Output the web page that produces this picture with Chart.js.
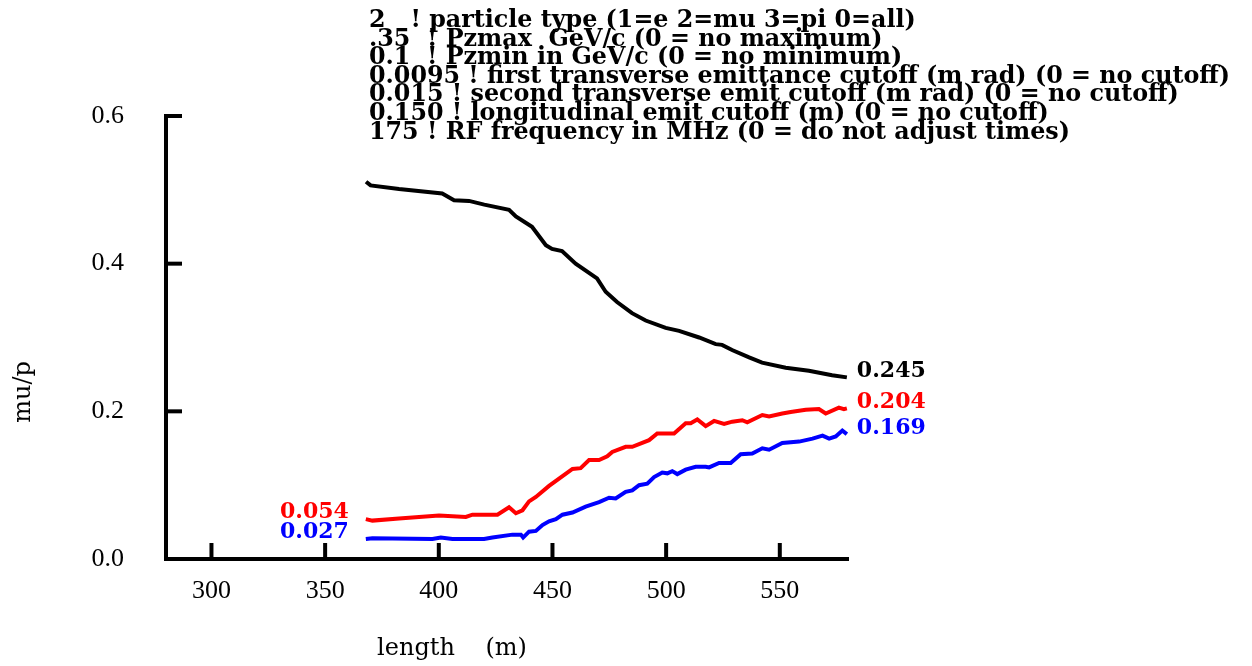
<!DOCTYPE html>
<html>
<head>
<meta charset="utf-8">
<script src="https://cdn.jsdelivr.net/npm/chart.js@4/dist/chart.umd.min.js"></script>
<style>
  html, body { margin: 0; padding: 0; background: #fff; }
  #wrap { width: 1252px; height: 666px; }
</style>
</head>
<body>
<div id="wrap"><canvas id="mu_graph" width="1252" height="666"></canvas></div>
<script>
// values
const blackX = [368, 370, 382.5, 401.5, 406.7, 413.3, 420, 430.9, 433.9, 441, 447.1, 449.8, 454.2, 460.2, 469.6, 473.4, 478.4, 485, 491, 499.8, 505.7, 514.5, 521.8, 524.6, 529, 536.5, 542.2, 552.6, 562.8, 573, 579.5];
const blackY = [0.511, 0.506, 0.501, 0.495, 0.486, 0.485, 0.480, 0.473, 0.464, 0.450, 0.425, 0.420, 0.417, 0.400, 0.380, 0.362, 0.348, 0.333, 0.323, 0.313, 0.309, 0.300, 0.291, 0.290, 0.283, 0.273, 0.266, 0.259, 0.255, 0.249, 0.246];

const redX = [367.9, 370.8, 382.5, 400.1, 411.9, 414.8, 425.8, 430.9, 433.9, 436.8, 439.7, 442.7, 448.5, 452.9, 458.8, 462.4, 466.1, 470.5, 474.1, 476.3, 482.2, 485.1, 492.5, 496.1, 503.5, 508.6, 510.8, 513.7, 517.4, 521.1, 525.5, 529.1, 533.5, 535.7, 542.3, 545.3, 551.1, 554.8, 561.4, 567.2, 570.2, 576.0, 578.2, 579.5];
const redY = [0.054, 0.052, 0.055, 0.059, 0.057, 0.060, 0.060, 0.070, 0.062, 0.066, 0.078, 0.084, 0.099, 0.109, 0.122, 0.123, 0.134, 0.134, 0.139, 0.145, 0.152, 0.152, 0.161, 0.170, 0.170, 0.184, 0.184, 0.189, 0.180, 0.187, 0.183, 0.186, 0.188, 0.185, 0.195, 0.193, 0.197, 0.199, 0.202, 0.203, 0.197, 0.205, 0.203, 0.204];

const blueX = [367.9, 370.8, 397.2, 400.9, 406.0, 419.9, 423.6, 432.4, 436.1, 437.1, 439.7, 442.7, 445.6, 448.5, 451.5, 454.4, 458.8, 464.6, 470.5, 474.9, 477.8, 482.2, 485.1, 488.1, 491.7, 494.7, 498.3, 500.5, 502.7, 504.9, 508.6, 513.0, 517.4, 518.9, 523.3, 528.4, 532.8, 537.9, 542.3, 545.3, 551.1, 558.5, 564.4, 568.8, 571.7, 574.6, 577.5, 579.5];
const blueY = [0.027, 0.028, 0.027, 0.029, 0.027, 0.027, 0.029, 0.033, 0.033, 0.029, 0.037, 0.038, 0.046, 0.051, 0.054, 0.060, 0.063, 0.071, 0.077, 0.083, 0.082, 0.091, 0.093, 0.100, 0.102, 0.111, 0.117, 0.116, 0.119, 0.115, 0.121, 0.125, 0.125, 0.124, 0.130, 0.130, 0.142, 0.143, 0.150, 0.148, 0.157, 0.159, 0.163, 0.167, 0.163, 0.166, 0.174, 0.169];

const xTicks = [300, 350, 400, 450, 500, 550];
const yTicks = [0.0, 0.2, 0.4, 0.6];

const startLabels = ["", "0.054", "0.027"];   // black, red, blue
const endLabels = ["0.245", "0.204", "0.169"];

const headerLines = [
  "2   ! particle type (1=e 2=mu 3=pi 0=all)",
  ".35  ! Pzmax  GeV/c (0 = no maximum)",
  "0.1  ! Pzmin in GeV/c (0 = no minimum)",
  "0.0095 ! first transverse emittance cutoff (m rad) (0 = no cutoff)",
  "0.015 ! second transverse emit cutoff (m rad) (0 = no cutoff)",
  "0.150 ! longitudinal emit cutoff (m) (0 = no cutoff)",
  "175 ! RF frequency in MHz (0 = do not adjust times)"
];

const xTitle = "length    (m)";
const yTitle = "mu/p";

function pairs(xs, ys) {
  var out = [];
  for (var i = 0; i < xs.length; i++) out.push({ x: xs[i], y: ys[i] });
  return out;
}

const colors = ["#000000", "#ff0000", "#0000ff"];

const data_mu = {
  datasets: [
    { label: "black", data: pairs(blackX, blackY), borderColor: colors[0] },
    { label: "red", data: pairs(redX, redY), borderColor: colors[1] },
    { label: "blue", data: pairs(blueX, blueY), borderColor: colors[2] },
  ],
};

const boldFont = "bold 22px 'DejaVu Serif'";

// inward ticks, value labels, header text and axis titles
const extras = {
  id: "extras",
  afterDraw(chart) {
    const ctx = chart.ctx;
    const xs = chart.scales.x;
    const ys = chart.scales.y;
    const area = chart.chartArea;
    ctx.save();
    ctx.strokeStyle = "#000";
    ctx.lineWidth = 4;
    ctx.lineCap = "butt";
    xTicks.forEach(function (v) {
      const px = xs.getPixelForValue(v);
      ctx.beginPath();
      ctx.moveTo(px, area.bottom);
      ctx.lineTo(px, area.bottom - 16);
      ctx.stroke();
    });
    yTicks.forEach(function (v) {
      if (v === 0) return;
      const py = ys.getPixelForValue(v);
      ctx.beginPath();
      ctx.moveTo(area.left, py);
      ctx.lineTo(area.left + 16, py);
      ctx.stroke();
    });

    // value labels at line ends
    ctx.font = boldFont;
    ctx.textBaseline = "middle";
    chart.data.datasets.forEach(function (ds, i) {
      const first = ds.data[0];
      const last = ds.data[ds.data.length - 1];
      ctx.fillStyle = colors[i];
      ctx.textAlign = "left";
      ctx.fillText(endLabels[i], xs.getPixelForValue(last.x) + 10, ys.getPixelForValue(last.y) - 6);
      if (startLabels[i]) {
        ctx.textAlign = "right";
        ctx.fillText(startLabels[i], xs.getPixelForValue(first.x) - 17, ys.getPixelForValue(first.y) - 7);
      }
    });

    // header block
    ctx.fillStyle = "#000";
    ctx.textAlign = "left";
    ctx.textBaseline = "alphabetic";
    ctx.font = boldFont;
    var widest = 0;
    headerLines.forEach(function (t) { widest = Math.max(widest, ctx.measureText(t).width); });
    var size = Math.min(26, 22 * 863 / widest);
    ctx.font = "bold " + size.toFixed(1) + "px 'DejaVu Serif'";
    headerLines.forEach(function (t, i) {
      ctx.fillText(t, 369, 27 + i * 18.6);
    });

    // axis titles
    ctx.font = "24px 'DejaVu Serif'";
    ctx.textAlign = "center";
    ctx.fillText(xTitle, 452, 655);
    ctx.translate(30, 392);
    ctx.rotate(-Math.PI / 2);
    ctx.textBaseline = "alphabetic";
    ctx.fillText(yTitle, 0, 0);
    ctx.restore();
  },
};

const config_mu = {
  type: "line",
  data: data_mu,
  options: {
    responsive: false,
    animation: false,
    layout: { padding: { left: 0, top: 116, right: 404, bottom: 0 } },
    elements: {
      line: { borderWidth: 4, tension: 0 },
      point: { radius: 0 },
    },
    plugins: {
      legend: { display: false },
      tooltip: { enabled: false },
    },
    scales: {
      x: {
        type: "linear",
        min: 280,
        max: 580,
        grid: { display: false, drawTicks: false },
        border: { display: true, color: "#000", width: 4 },
        afterBuildTicks: function (scale) {
          scale.ticks = xTicks.map(function (v) { return { value: v }; });
        },
        afterFit: function (scale) { scale.height = 107; },
        ticks: {
          padding: 17,
          color: "#000",
          maxRotation: 0,
          font: { family: "'Liberation Serif'", size: 26 },
        },
      },
      y: {
        type: "linear",
        min: 0,
        max: 0.6,
        grid: { display: false, drawTicks: false },
        border: { display: true, color: "#000", width: 4 },
        afterBuildTicks: function (scale) {
          scale.ticks = yTicks.map(function (v) { return { value: v }; });
        },
        afterFit: function (scale) { scale.width = 166; },
        ticks: {
          padding: 42,
          color: "#000",
          font: { family: "'Liberation Serif'", size: 26 },
          callback: function (v) { return Number(v).toFixed(1); },
        },
      },
    },
  },
  plugins: [extras],
};

new Chart(document.getElementById("mu_graph"), config_mu);
</script>
</body>
</html>
